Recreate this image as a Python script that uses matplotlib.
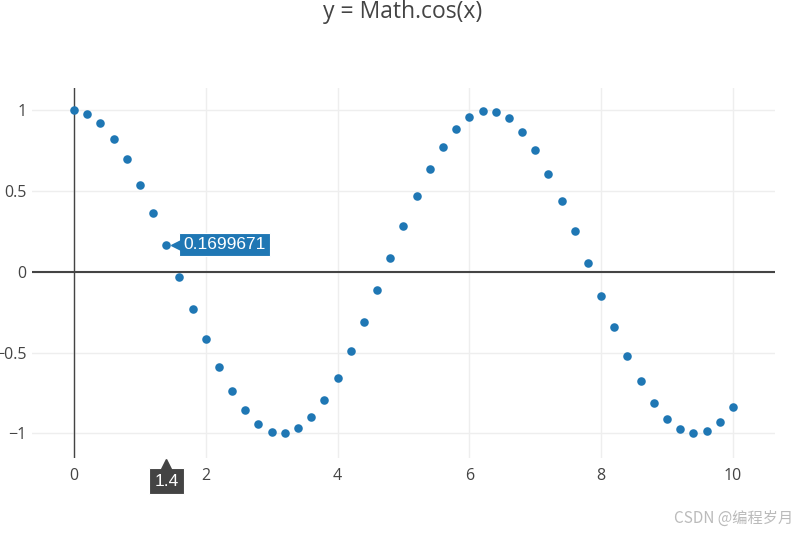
import matplotlib.pyplot as plt
from matplotlib.transforms import offset_copy, blended_transform_factory

# x values and the cos(x) readings taken off the chart
xs = [0.0, 0.2, 0.4, 0.6, 0.8, 1.0, 1.2, 1.4, 1.6, 1.8,
      2.0, 2.2, 2.4, 2.6, 2.8, 3.0, 3.2, 3.4, 3.6, 3.8,
      4.0, 4.2, 4.4, 4.6, 4.8, 5.0, 5.2, 5.4, 5.6, 5.8,
      6.0, 6.2, 6.4, 6.6, 6.8, 7.0, 7.2, 7.4, 7.6, 7.8,
      8.0, 8.2, 8.4, 8.6, 8.8, 9.0, 9.2, 9.4, 9.6, 9.8, 10.0]
ys = [1.000, 0.980, 0.921, 0.825, 0.697, 0.540, 0.362, 0.170, -0.029, -0.227,
      -0.416, -0.589, -0.737, -0.857, -0.942, -0.990, -0.998, -0.967, -0.897, -0.791,
      -0.654, -0.490, -0.307, -0.112, 0.087, 0.284, 0.469, 0.635, 0.776, 0.886,
      0.960, 0.996, 0.993, 0.951, 0.869, 0.754, 0.608, 0.439, 0.252, 0.054,
      -0.146, -0.340, -0.519, -0.676, -0.811, -0.911, -0.975, -1.000, -0.985, -0.930, -0.839]

xticks = [0, 2, 4, 6, 8, 10]
yticks = [-1, -0.5, 0, 0.5, 1]
ytick_labels = ['\u22121', '\u22120.5', '0', '0.5', '1']

hover_x = 1.4
hover_y = 0.1699671

plt.rcParams['font.family'] = ['Open Sans', 'DejaVu Sans']

fig = plt.figure(figsize=(8.05, 5.35), dpi=100)
ax = fig.add_axes([0.0398, 0.1439, 0.923, 0.6916])

ax.set_xlim(-0.637, 10.64)
ax.set_ylim(-1.152, 1.139)

for s in ax.spines.values():
    s.set_visible(False)

ax.set_xticks(xticks)
ax.set_xticklabels([str(t) for t in xticks])
ax.set_yticks(yticks)
ax.set_yticklabels(ytick_labels)
ax.tick_params(length=0, labelsize=11.5, labelcolor='#444444')
ax.tick_params(axis='x', pad=7)
ax.tick_params(axis='y', pad=4)
ax.grid(True, color='#eeeeee', linewidth=1)
ax.set_axisbelow(True)

# zero lines
ax.axhline(0, color='#444444', linewidth=1.5, zorder=1)
ax.axvline(0, color='#444444', linewidth=1, zorder=1)

ax.scatter(xs, ys, s=38, color='#1f77b4', zorder=3, linewidths=0)

# hover label for the y value
ax.annotate(f'{hover_y:.7f}', xy=(hover_x, hover_y), xytext=(17, 0),
            textcoords='offset pixels', ha='left', va='center',
            fontsize=12.5, color='white', family=['Liberation Sans', 'DejaVu Sans'],
            bbox=dict(boxstyle='square,pad=0.25', fc='#1f77b4', ec='white', lw=0.8),
            zorder=5)
tri = offset_copy(ax.transData, fig=fig, x=10, y=0, units='dots')
ax.plot([hover_x], [hover_y], marker='<', ms=7, color='#1f77b4',
        transform=tri, zorder=6, clip_on=False)

# hover label for the x value, sitting under the axis
ax.annotate(f'{hover_x}', xy=(hover_x, 0), xycoords=('data', 'axes fraction'),
            xytext=(0, -23), textcoords='offset pixels', ha='center', va='center',
            fontsize=12.5, color='white', family=['Liberation Sans', 'DejaVu Sans'],
            bbox=dict(boxstyle='square,pad=0.3', fc='#444444', ec='white', lw=0.8),
            zorder=5, annotation_clip=False)
xa = blended_transform_factory(ax.transData, ax.transAxes)
tri2 = offset_copy(xa, fig=fig, x=0, y=-6, units='dots')
ax.plot([hover_x], [0], marker='^', ms=7, color='#444444',
        transform=tri2, zorder=6, clip_on=False)

fig.text(0.5, 0.977, 'y = Math.cos(x)', ha='center', va='center',
         fontsize=16.5, color='#444444')

fig.text(0.985, 0.032, 'CSDN @编程岁月', ha='right', va='center',
         fontsize=11, color='#bbbbbb',
         family=['Noto Sans CJK SC', 'DejaVu Sans'])

fig.savefig('out.png', dpi=100)
